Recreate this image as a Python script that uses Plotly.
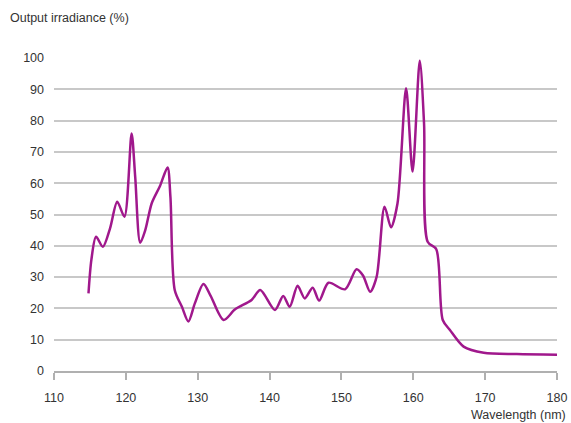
import plotly.graph_objects as go

# Spectral output of the lamp
wavelength_nm = [114.8, 115.2, 115.85, 116.8, 117.8, 118.8, 119.8, 120.8, 121.3, 122.0,
                 122.7, 123.6, 124.75, 125.8, 126.2, 126.8, 127.8, 128.7, 129.6, 130.8,
                 131.8, 133.6, 135.2, 137.5, 138.7, 140.75, 141.9, 142.8, 143.9, 144.9,
                 146.0, 146.9, 148.2, 150.5, 152.1, 153.0, 154.0, 154.9, 156.0, 156.9,
                 157.8, 159.0, 159.9, 160.9, 161.5, 162.0, 163.2, 164.1, 165.1, 167.0,
                 169.8, 174.4, 180.0]
irradiance_pct = [24.8, 35.5, 42.9, 39.7, 45.6, 54.1, 49.3, 75.9, 62.0, 41.0,
                  45.0, 53.6, 59.1, 65.0, 55.7, 25.9, 20.5, 15.8, 21.6, 27.8,
                  24.0, 16.3, 19.7, 22.7, 25.9, 19.5, 24.0, 20.5, 27.2, 23.2,
                  26.6, 22.5, 28.2, 26.1, 32.5, 30.5, 25.3, 30.1, 52.5, 45.9,
                  53.5, 90.3, 63.7, 99.1, 79.0, 41.3, 38.9, 16.3, 13.1, 7.8,
                  5.8, 5.4, 5.2]

x_ticks = [110, 120, 130, 140, 150, 160, 170, 180]
y_ticks = [0, 10, 20, 30, 40, 50, 60, 70, 80, 90, 100]

font_family = "Liberation Sans, Arial, sans-serif"
text_color = "#333333"

fig = go.Figure()
fig.add_trace(go.Scatter(
    x=wavelength_nm, y=irradiance_pct, mode="lines",
    line=dict(color="#a0188c", width=2.5, shape="spline", smoothing=0.8),
    hoverinfo="x+y", showlegend=False,
))

fig.update_layout(
    width=571, height=423,
    margin=dict(l=54, r=14, t=58, b=52, autoexpand=False),
    paper_bgcolor="white", plot_bgcolor="white",
    font=dict(family=font_family, size=12, color=text_color),
    xaxis=dict(
        range=[110, 180], tickvals=x_ticks, ticktext=[str(v) for v in x_ticks],
        showgrid=False, zeroline=False, automargin=False,
        showline=True, linecolor="#b0b0b0", linewidth=1.5,
        ticks="outside", ticklen=7, tickcolor="#b0b0b0", tickwidth=1.5,
        ticklabelstandoff=7,
        tickfont=dict(size=12.5, color=text_color),
    ),
    yaxis=dict(
        range=[0, 100], tickvals=y_ticks, ticktext=[str(v) for v in y_ticks],
        showgrid=True, gridcolor="#c8c8c8", gridwidth=1.5, automargin=False,
        zeroline=False, showline=False, ticks="", ticklabelstandoff=9,
        tickfont=dict(size=12.5, color=text_color),
    ),
    annotations=[
        dict(text="Output irradiance (%)", xref="paper", yref="paper",
             x=-46 / 503, y=1 + 40 / 313, xanchor="left", yanchor="middle",
             showarrow=False, font=dict(size=12.5, color=text_color)),
        dict(text="Wavelength (nm)", xref="paper", yref="paper",
             x=1 + 11 / 503, y=-44 / 313, xanchor="right", yanchor="middle",
             showarrow=False, font=dict(size=12.5, color=text_color)),
    ],
)

fig.write_html("out.html")
